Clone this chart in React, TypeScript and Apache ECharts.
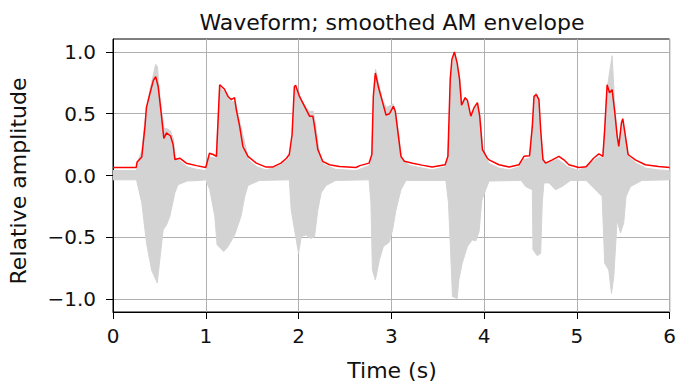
import React, { useEffect, useRef } from "react";
import * as echarts from "echarts";

const TITLE = "Waveform; smoothed AM envelope";
const X_LABEL = "Time (s)";
const Y_LABEL = "Relative amplitude";
const X_TICKS = [0, 1, 2, 3, 4, 5, 6];
const Y_TICKS = [-1, -0.5, 0, 0.5, 1];

// smoothed AM envelope (red)
const envT = [0, 0.25, 0.26, 0.31, 0.345, 0.36, 0.4, 0.435, 0.46, 0.487, 0.505, 0.523, 0.548, 0.577, 0.62, 0.648, 0.667, 0.72, 0.79, 0.9, 1.0, 1.04, 1.08, 1.115, 1.15, 1.2, 1.24, 1.275, 1.31, 1.33, 1.365, 1.4, 1.455, 1.545, 1.65, 1.72, 1.81, 1.87, 1.9, 1.93, 1.955, 1.968, 2.01, 2.065, 2.118, 2.154, 2.172, 2.208, 2.26, 2.333, 2.44, 2.62, 2.66, 2.76, 2.79, 2.806, 2.828, 2.863, 2.907, 2.943, 2.98, 3.022, 3.043, 3.068, 3.104, 3.14, 3.23, 3.33, 3.44, 3.58, 3.61, 3.635, 3.653, 3.68, 3.71, 3.735, 3.757, 3.796, 3.82, 3.857, 3.892, 3.928, 3.953, 3.982, 4.035, 4.054, 4.16, 4.27, 4.376, 4.43, 4.49, 4.52, 4.538, 4.563, 4.591, 4.61, 4.634, 4.663, 4.735, 4.806, 4.86, 4.914, 5.02, 5.1, 5.18, 5.237, 5.28, 5.3, 5.326, 5.352, 5.38, 5.409, 5.434, 5.452, 5.48, 5.495, 5.523, 5.552, 5.63, 5.738, 5.88, 6.0];
const envV = [0.065, 0.065, 0.11, 0.15, 0.4, 0.55, 0.67, 0.77, 0.8, 0.72, 0.6, 0.48, 0.3, 0.345, 0.32, 0.25, 0.13, 0.14, 0.1, 0.08, 0.065, 0.18, 0.17, 0.155, 0.735, 0.7, 0.64, 0.615, 0.63, 0.53, 0.4, 0.235, 0.155, 0.1, 0.068, 0.068, 0.1, 0.14, 0.17, 0.33, 0.72, 0.73, 0.64, 0.56, 0.48, 0.48, 0.4, 0.21, 0.115, 0.087, 0.073, 0.065, 0.08, 0.1, 0.17, 0.64, 0.83, 0.71, 0.59, 0.49, 0.5, 0.56, 0.52, 0.37, 0.155, 0.115, 0.1, 0.084, 0.068, 0.087, 0.155, 0.78, 0.94, 1.0, 0.91, 0.78, 0.57, 0.63, 0.61, 0.48, 0.55, 0.59, 0.48, 0.21, 0.14, 0.127, 0.087, 0.068, 0.087, 0.155, 0.16, 0.4, 0.64, 0.655, 0.615, 0.37, 0.13, 0.1, 0.127, 0.155, 0.127, 0.087, 0.065, 0.07, 0.14, 0.175, 0.155, 0.37, 0.735, 0.67, 0.695, 0.51, 0.32, 0.235, 0.425, 0.46, 0.32, 0.17, 0.127, 0.087, 0.073, 0.065];

// waveform, upper extent (grey)
const waveUpT = [0, 0.25, 0.27, 0.31, 0.345, 0.37, 0.4, 0.43, 0.46, 0.48, 0.5, 0.52, 0.55, 0.58, 0.62, 0.65, 0.67, 0.72, 0.8, 0.9, 1.0, 1.04, 1.11, 1.15, 1.2, 1.28, 1.32, 1.37, 1.41, 1.46, 1.55, 1.65, 1.8, 1.9, 1.93, 1.96, 1.97, 2.02, 2.08, 2.12, 2.16, 2.19, 2.22, 2.27, 2.4, 2.62, 2.76, 2.79, 2.81, 2.83, 2.87, 2.91, 2.95, 3.02, 3.05, 3.08, 3.11, 3.2, 3.44, 3.58, 3.61, 3.64, 3.68, 3.71, 3.74, 3.76, 3.8, 3.86, 3.93, 3.96, 3.99, 4.05, 4.16, 4.27, 4.38, 4.43, 4.49, 4.52, 4.54, 4.56, 4.59, 4.61, 4.64, 4.8, 4.9, 5.02, 5.18, 5.24, 5.28, 5.3, 5.33, 5.38, 5.41, 5.44, 5.45, 5.49, 5.52, 5.56, 5.64, 5.74, 5.88, 6.0];
const waveUpV = [0.04, 0.04, 0.12, 0.2, 0.45, 0.58, 0.7, 0.8, 0.9, 0.88, 0.68, 0.55, 0.38, 0.38, 0.36, 0.3, 0.15, 0.12, 0.07, 0.05, 0.04, 0.15, 0.14, 0.72, 0.68, 0.6, 0.6, 0.42, 0.3, 0.13, 0.07, 0.045, 0.08, 0.14, 0.3, 0.72, 0.73, 0.63, 0.55, 0.52, 0.52, 0.38, 0.2, 0.09, 0.05, 0.04, 0.08, 0.14, 0.66, 0.86, 0.72, 0.6, 0.55, 0.58, 0.5, 0.34, 0.13, 0.08, 0.045, 0.07, 0.14, 0.8, 1.0, 0.9, 0.78, 0.58, 0.62, 0.48, 0.58, 0.46, 0.2, 0.1, 0.06, 0.045, 0.07, 0.13, 0.14, 0.4, 0.64, 0.67, 0.62, 0.35, 0.1, 0.13, 0.07, 0.04, 0.12, 0.15, 0.14, 0.4, 0.72, 0.97, 0.55, 0.3, 0.25, 0.45, 0.33, 0.15, 0.1, 0.06, 0.045, 0.04];

// waveform, lower extent (grey)
const waveLoT = [0, 0.25, 0.255, 0.31, 0.362, 0.416, 0.477, 0.505, 0.541, 0.577, 0.613, 0.667, 0.7, 0.8, 0.935, 1.0, 1.043, 1.097, 1.122, 1.194, 1.24, 1.312, 1.348, 1.38, 1.42, 1.455, 1.58, 1.9, 1.921, 1.975, 2.0, 2.03, 2.08, 2.13, 2.172, 2.208, 2.244, 2.298, 2.4, 2.76, 2.78, 2.796, 2.828, 2.871, 2.914, 2.978, 3.014, 3.05, 3.104, 3.158, 3.588, 3.616, 3.64, 3.659, 3.71, 3.728, 3.764, 3.82, 3.874, 3.91, 3.946, 3.975, 4.018, 4.054, 4.4, 4.448, 4.52, 4.527, 4.573, 4.61, 4.627, 4.645, 4.7, 4.77, 4.84, 4.932, 5.1, 5.2, 5.272, 5.3, 5.344, 5.373, 5.398, 5.434, 5.47, 5.505, 5.53, 5.578, 5.7, 6.0];
const waveLoV = [-0.035, -0.035, -0.04, -0.22, -0.55, -0.765, -0.87, -0.68, -0.44, -0.4, -0.33, -0.14, -0.075, -0.045, -0.04, -0.035, -0.115, -0.33, -0.56, -0.615, -0.575, -0.48, -0.4, -0.33, -0.17, -0.08, -0.04, -0.035, -0.28, -0.52, -0.63, -0.495, -0.48, -0.51, -0.495, -0.28, -0.14, -0.08, -0.04, -0.035, -0.22, -0.765, -0.845, -0.685, -0.575, -0.54, -0.44, -0.28, -0.115, -0.04, -0.04, -0.22, -0.63, -0.98, -0.995, -0.845, -0.71, -0.575, -0.52, -0.53, -0.455, -0.2, -0.115, -0.045, -0.04, -0.09, -0.115, -0.6, -0.65, -0.63, -0.22, -0.06, -0.06, -0.115, -0.09, -0.04, -0.04, -0.115, -0.17, -0.71, -0.765, -0.955, -0.82, -0.36, -0.465, -0.385, -0.17, -0.09, -0.04, -0.035];

// quiet-section waveform band (always present around zero)
const BASE_BAND = [-0.03, 0.03];

const zip = (t: number[], v: number[]) => t.map((x, i) => [x, v[i]]);
const FONT = "DejaVu Sans";
const GREY = "#d3d3d3";
const INK = "#111";

export default function App() {
  const ref = useRef<HTMLDivElement>(null);
  useEffect(() => {
    if (!ref.current) return;
    const chart = echarts.init(ref.current, undefined, { renderer: "svg" });
    const gridLeft = 113, gridRight = 8, gridTop = 39, gridBottom = 70;
    const plotCx = gridLeft + (679 - gridLeft - gridRight) / 2;
    chart.setOption({
      animation: false,
      backgroundColor: "#ffffff",
      grid: {
        left: gridLeft, right: gridRight, top: gridTop, bottom: gridBottom,
        show: true, borderColor: "#000", borderWidth: 1, backgroundColor: "transparent",
      },
      xAxis: {
        type: "value", min: 0, max: 6, interval: 1,
        axisLine: { show: true, onZero: false, lineStyle: { color: "#000", width: 1 } },
        axisTick: { show: true, inside: false, length: 7, lineStyle: { color: "#000", width: 1 } },
        axisLabel: {
          margin: 14, color: INK, fontFamily: FONT, fontSize: 20,
          formatter: (v: number) => (X_TICKS.includes(v) ? String(v) : ""),
        },
        splitLine: { show: true, lineStyle: { color: "#b0b0b0", width: 1 } },
      },
      yAxis: {
        type: "value", min: -1.105, max: 1.105,
        axisLine: { show: true, onZero: false, lineStyle: { color: "#000", width: 1 } },
        axisTick: { show: true, inside: false, length: 7, customValues: Y_TICKS, lineStyle: { color: "#000", width: 1 } },
        axisLabel: {
          margin: 17, color: INK, fontFamily: FONT, fontSize: 20, customValues: Y_TICKS,
          formatter: (v: number) => (v < 0 ? "\u2212" : "") + Math.abs(v).toFixed(1),
        },
        splitLine: { show: true, lineStyle: { color: "#b0b0b0", width: 1 } },
      },
      graphic: [
        { type: "text", x: plotCx, y: 22, style: { text: TITLE, fontFamily: FONT, fontSize: 22, fill: INK, textAlign: "center", textVerticalAlign: "middle" } },
        { type: "text", x: plotCx, y: 370, style: { text: X_LABEL, fontFamily: FONT, fontSize: 22, fill: INK, textAlign: "center", textVerticalAlign: "middle" } },
        { type: "text", x: 18, y: 181, rotation: Math.PI / 2, style: { text: Y_LABEL, fontFamily: FONT, fontSize: 22, fill: INK, textAlign: "center", textVerticalAlign: "middle" } },
      ],
      series: [
        {
          type: "line", data: zip(waveUpT, waveUpV), z: 2, symbol: "none", silent: true,
          lineStyle: { color: GREY, width: 1 }, areaStyle: { color: GREY, opacity: 1, origin: BASE_BAND[0] },
          markArea: {
            z: 2, silent: true, label: { show: false },
            itemStyle: { color: GREY, opacity: 1, borderWidth: 0 },
            data: [[{ xAxis: X_TICKS[0], yAxis: BASE_BAND[0] }, { xAxis: X_TICKS[X_TICKS.length - 1], yAxis: BASE_BAND[1] }]],
          },
        },
        {
          type: "line", data: zip(waveLoT, waveLoV), z: 2, symbol: "none", silent: true,
          lineStyle: { color: GREY, width: 1 }, areaStyle: { color: GREY, opacity: 1, origin: BASE_BAND[1] },
        },
        {
          type: "line", data: zip(envT, envV), z: 3, symbol: "none", silent: true,
          lineStyle: { color: "#ff0000", width: 1.5 },
        },
      ],
    });
    return () => chart.dispose();
  }, []);
  return <div ref={ref} style={{ position: "absolute", left: 0, top: 0, width: 679, height: 382 }} />;
}
